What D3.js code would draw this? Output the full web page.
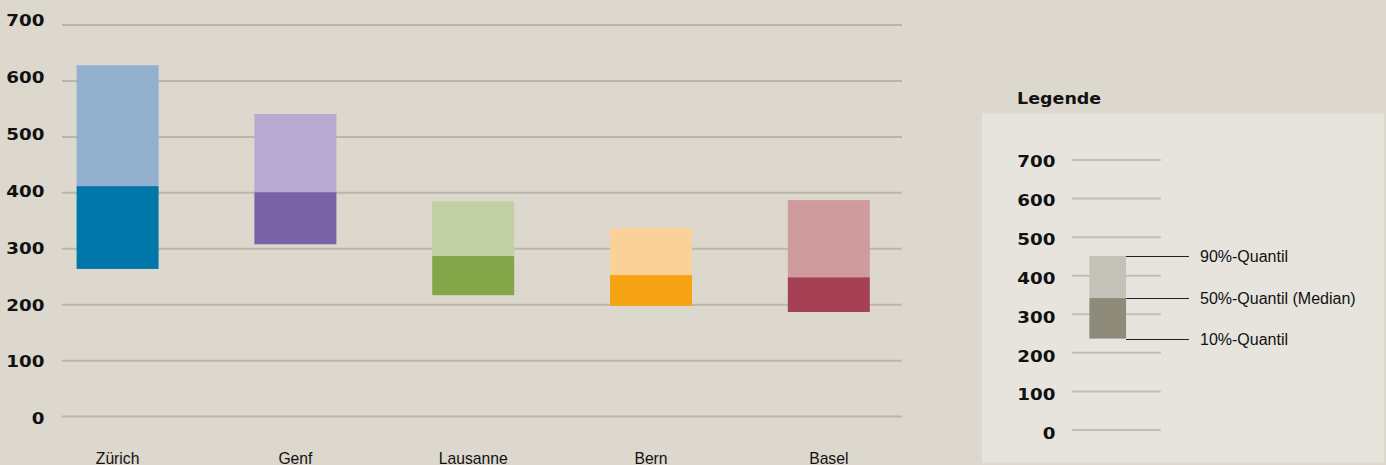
<!DOCTYPE html>
<html><head><meta charset="utf-8">
<script src="https://cdn.jsdelivr.net/npm/d3@7"></script>
<style>
html,body{margin:0;padding:0;background:#dcd8ce;}
svg{display:block;}
</style></head>
<body>
<svg id="chart" width="1386" height="465"></svg>
<script>
// ---- data ----
const categories = ["Zürich", "Genf", "Lausanne", "Bern", "Basel"];
const q10 = [264, 308, 217, 198, 187];
const q50 = [412, 401, 287, 253, 249];
const q90 = [628, 541, 385, 337, 387];
const lightColors = ["#93b1cf", "#b7aad1", "#c2d0a4", "#fad198", "#d09b9c"];
const darkColors  = ["#0077a8", "#7962a6", "#82a648", "#f6a313", "#a64054"];
const yTicks = [0, 100, 200, 300, 400, 500, 600, 700];

const legendTitle = "Legende";
const legendQuantiles = [237, 342, 451];        // 10%, 50%, 90%
const legendLabels = ["10%-Quantil", "50%-Quantil (Median)", "90%-Quantil"];
const legendColors = ["#c4c1b9", "#8f8b7b"];

// ---- setup ----
const svg = d3.select("#chart");
const gridColor = "#bab6ab";
const numFont = "'DejaVu Sans', sans-serif";
const txtFont = "'Liberation Sans', Arial, sans-serif";
const stretch = 1.13;

svg.append("rect").attr("width", 1386).attr("height", 465).attr("fill", "#dcd8ce");

// main scales
const y = d3.scaleLinear().domain([0, 700]).range([416.6, 25]);
const yLabel = d3.scaleLinear().domain([0, 700]).range([418.5, 20]);
const x = d3.scalePoint().domain(categories).range([117.6, 828.8]);
const barW = 82;

function numLabels(g, ticks, xPos, scale) {
  g.selectAll("g.ytick").data(ticks).join("g")
    .attr("transform", d => `translate(${xPos},${scale(d) + 5.9})`)
    .append("text")
    .attr("transform", `scale(${stretch},1)`)
    .attr("text-anchor", "end")
    .attr("font-family", numFont).attr("font-weight", "bold")
    .attr("font-size", 16.2)
    .attr("fill", "#111").text(d => d);
}

// gridlines
const main = svg.append("g");
main.selectAll("line.grid").data(yTicks).join("line")
  .attr("x1", 62).attr("x2", 902)
  .attr("y1", d => y(d)).attr("y2", d => y(d))
  .attr("stroke", gridColor).attr("stroke-width", 2);

numLabels(main, yTicks, 44.5, yLabel);

// bars
const rows = categories.map((c, i) => ({c, lo: q10[i], mid: q50[i], hi: q90[i], light: lightColors[i], dark: darkColors[i]}));
main.selectAll("rect.upper").data(rows).join("rect")
  .attr("x", d => x(d.c) - barW / 2).attr("width", barW)
  .attr("y", d => y(d.hi)).attr("height", d => y(d.mid) - y(d.hi))
  .attr("fill", d => d.light);
main.selectAll("rect.lower").data(rows).join("rect")
  .attr("x", d => x(d.c) - barW / 2).attr("width", barW)
  .attr("y", d => y(d.mid)).attr("height", d => y(d.lo) - y(d.mid))
  .attr("fill", d => d.dark);

main.selectAll("text.cat").data(categories).join("text")
  .attr("x", d => x(d)).attr("y", 463.5)
  .attr("text-anchor", "middle")
  .attr("font-family", txtFont).attr("font-size", 15.7)
  .attr("fill", "#111").text(d => d);

// ---- legend ----
const lg = svg.append("g");
lg.append("g").attr("transform", "translate(1017,104)")
  .append("text").attr("transform", `scale(${stretch},1)`)
  .attr("font-family", numFont).attr("font-weight", "bold")
  .attr("font-size", 15.5)
  .attr("fill", "#111").text(legendTitle);

lg.append("rect").attr("x", 982).attr("y", 113.3).attr("width", 402).attr("height", 349.4)
  .attr("fill", "#e7e4dd");

const ly = d3.scaleLinear().domain([0, 700]).range([430, 160]);
const lyLabel = d3.scaleLinear().domain([0, 700]).range([433.5, 161]);
const lx = d3.scalePoint().domain([legendTitle]).range([1107.7, 1107.7]);
const lBarW = 36.7;

const lgGrid = lg.append("g");
lgGrid.selectAll("line.grid").data(yTicks).join("line")
  .attr("x1", 1072).attr("x2", 1160.7)
  .attr("y1", d => ly(d)).attr("y2", d => ly(d))
  .attr("stroke", "#c2beb4").attr("stroke-width", 2);

numLabels(lg.append("g"), yTicks, 1055.5, lyLabel);

const bx = lx(legendTitle) - lBarW / 2;
lg.append("rect").attr("x", bx).attr("width", lBarW)
  .attr("y", ly(legendQuantiles[2])).attr("height", ly(legendQuantiles[1]) - ly(legendQuantiles[2]))
  .attr("fill", legendColors[0]);
lg.append("rect").attr("x", bx).attr("width", lBarW)
  .attr("y", ly(legendQuantiles[1])).attr("height", ly(legendQuantiles[0]) - ly(legendQuantiles[1]))
  .attr("fill", legendColors[1]);

const lq = legendQuantiles.map((v, i) => ({v, label: legendLabels[i]}));
lg.selectAll("line.lead").data(lq).join("line")
  .attr("x1", bx + lBarW).attr("x2", 1189)
  .attr("y1", d => Math.round(ly(d.v)) + 0.5).attr("y2", d => Math.round(ly(d.v)) + 0.5)
  .attr("stroke", "#222").attr("stroke-width", 1);
lg.selectAll("text.lead").data(lq).join("text")
  .attr("x", 1200).attr("y", d => ly(d.v) + 6)
  .attr("font-family", txtFont).attr("font-size", 16)
  .attr("fill", "#111").text(d => d.label);
</script>
</body></html>
